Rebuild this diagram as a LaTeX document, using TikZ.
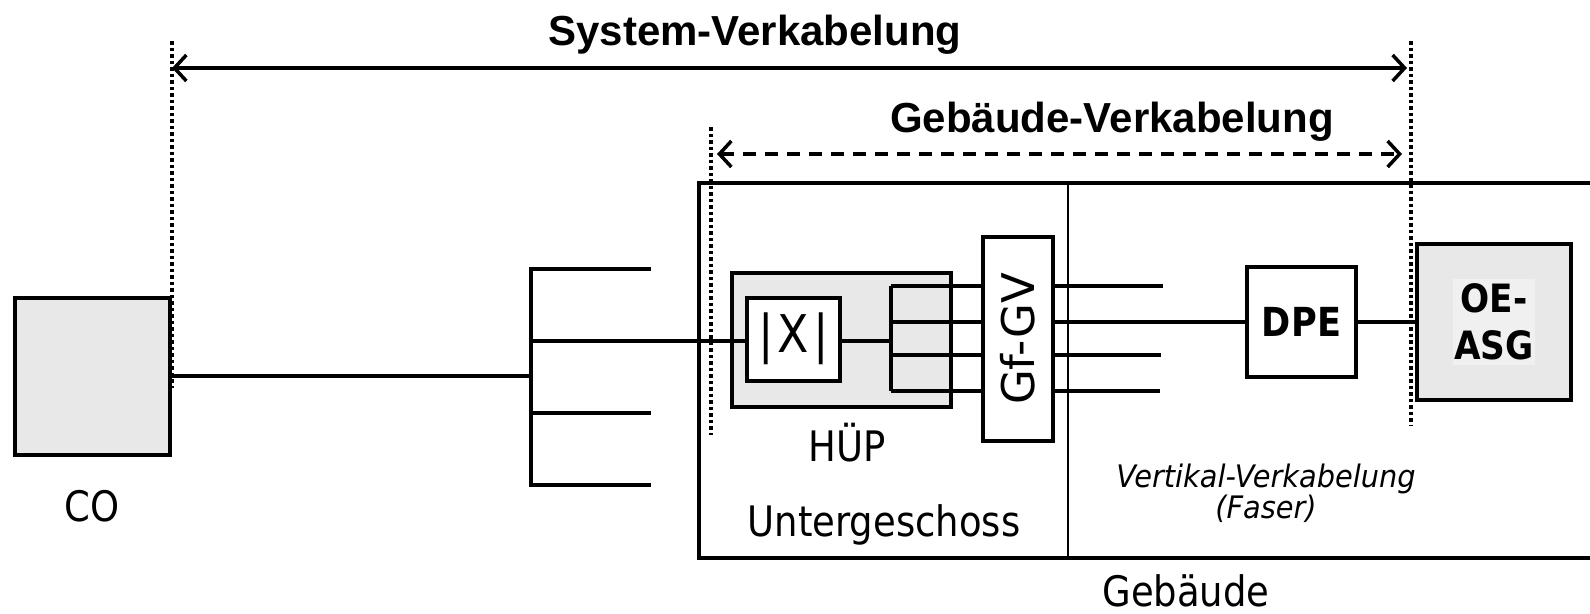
\documentclass[tikz,border=0pt]{standalone}
\usepackage{fontspec}
\setmainfont{DejaVu Sans}
\newfontfamily\dgtitle{Liberation Sans}
\newfontfamily\dgreg[FakeStretch=0.88]{DejaVu Sans}
\newfontfamily\dgplain{DejaVu Sans}
\newfontfamily\dgital[FakeStretch=0.93]{DejaVu Sans}
\usetikzlibrary{arrows.meta}
\definecolor{boxgray}{HTML}{E8E8E8}
\definecolor{lightg}{HTML}{F0F0F0}
\begin{document}
\begin{tikzpicture}[x=1pt,y=-1pt,line width=4pt,
  box/.style={draw,line width=4pt,inner sep=0pt},
  lbl/.style={anchor=base,inner sep=0pt,font={\dgreg\fontsize{42}{50}\selectfont}},
  ttl/.style={anchor=base,inner sep=0pt,font={\dgtitle\bfseries\fontsize{42}{50}\selectfont}},
  itl/.style={anchor=base,inner sep=0pt,font={\dgital\itshape\fontsize{31}{36}\selectfont}},
  dots/.style={line width=3.5pt,dash pattern=on 3.5pt off 3pt},
  dim/.style={line width=3.5pt,{Straight Barb[length=12pt,width=26pt]}-{Straight Barb[length=12pt,width=26pt]}}
]
\useasboundingbox (0,0) rectangle (1590,613);
\fill[white] (0,0) rectangle (1590,613);

% building
\node[draw,line width=3.5pt,inner sep=0pt,minimum width=911pt,minimum height=375pt] (bldg) at (1154.5,370.5) {};
\coordinate (divt) at (1068,183);
\coordinate (divb) at (1068,558);
\draw[line width=1.5pt] (divt) -- (divb);

% CO
\node[box,fill=boxgray,minimum width=155pt,minimum height=157pt] (co) at (92.5,376) {};
\node[lbl] (colab) at (92,521) {CO};

% HUEP
\node[draw,line width=3.5pt,fill=boxgray,inner sep=0pt,minimum width=219pt,minimum height=134pt] (huep) at (841.5,340) {};
\node[lbl] (hueplab) at (847,461) {HÜP};
\node[box,fill=white,minimum width=93pt,minimum height=83pt,font={\dgreg\fontsize{52}{52}\selectfont}] (xx) at (793.5,339) {|\kern4pt X\kern4pt|};

% Gf-GV
\node[box,fill=white,minimum width=70pt,minimum height=204pt,font={\dgplain\fontsize{45}{45}\selectfont}] (gf) at (1018,339) {\rotatebox{90}{Gf-GV}};

% DPE
\node[box,fill=white,minimum width=109pt,minimum height=110pt,font={\dgreg\bfseries\fontsize{40}{40}\selectfont}] (dpe) at (1301.5,322) {DPE};

% OE-ASG
\node[draw,line width=4.5pt,fill=boxgray,inner sep=0pt,minimum width=154pt,minimum height=156pt] (oe) at (1494,322) {};
\node[fill=lightg,inner xsep=1pt,inner ysep=5pt,align=center,font={\dgreg\bfseries\fontsize{39}{47}\selectfont}] (oetxt) at (1494,322) {OE-\\ASG};

% comb at left
\coordinate (ca) at (531,269);
\coordinate (cb) at (531,341);
\coordinate (cm) at (531,376);
\coordinate (cc) at (531,413);
\coordinate (cd) at (531,485);
\coordinate (ea) at (651,269);
\coordinate (ec) at (651,413);
\coordinate (ed) at (651,485);
\draw (co.east) -- (cm);
\draw (ea) -- (ca) -- (cd) -- (ed);
\draw (cc) -- (ec);
\draw (cb) -- (cb -| xx.west);

% inner comb
\coordinate (ia) at (891,286);
\coordinate (ib) at (891,322);
\coordinate (im) at (891,341);
\coordinate (ic) at (891,355);
\coordinate (id) at (891,391);
\draw (im -| xx.east) -- (im);
\draw (ia) -- (id);
\draw (ia) -- (ia -| gf.west);
\draw (ib) -- (ib -| gf.west);
\draw (ic) -- (ic -| gf.west);
\draw (id) -- (id -| gf.west);

% right of Gf-GV
\coordinate (ra) at (1163,286);
\coordinate (rc) at (1161,355);
\coordinate (rd) at (1160,391);
\draw (gf.east |- ra) -- (ra);
\draw (gf.east |- dpe.west) -- (dpe.west);
\draw (gf.east |- rc) -- (rc);
\draw (gf.east |- rd) -- (rd);
\draw (dpe.east) -- (oe.west);

% dotted boundaries
\coordinate (d1t) at (172,41);
\coordinate (d1b) at (172,388);
\coordinate (d2t) at (711,127);
\coordinate (d2b) at (711,435);
\coordinate (d3t) at (1411,41);
\coordinate (d3b) at (1411,425);
\draw[dots] (d1t) -- (d1b);
\draw[dots] (d2t) -- (d2b);
\draw[dots] (d3t) -- (d3b);

% dimension arrows
\coordinate (sa1) at (172,68);
\coordinate (sa2) at (1407,68);
\draw[dim] (sa1) -- (sa2);
\coordinate (ga1) at (717,154);
\coordinate (ga2) at (1402,154);
\draw[dim,dash pattern=on 13pt off 9pt] (ga1) -- (ga2);

\node[ttl] (systl) at (755,45) {System-Verkabelung};
\node[ttl] (gebtl) at (1112,132) {Gebäude-Verkabelung};

% labels
\node[lbl] (ugl) at (884,536) {Untergeschoss};
\node[itl] (vvl) at (1266,487) {Vertikal-Verkabelung};
\node[itl] (fsl) at (1266,518) {(Faser)};
\node[lbl] (gbl) at (1186,606) {Gebäude};
\end{tikzpicture}
\end{document}
